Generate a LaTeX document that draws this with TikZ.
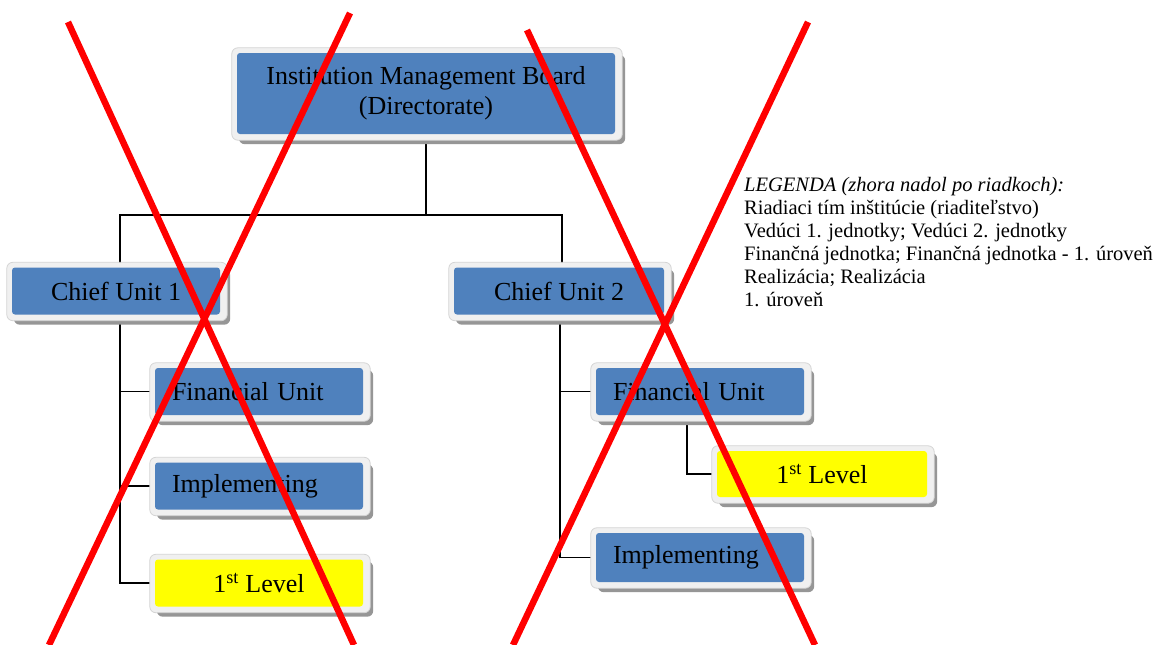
\documentclass[tikz,border=0pt]{standalone}
\usepackage{fontspec}
\setmainfont{Liberation Serif}
\usetikzlibrary{backgrounds}
\definecolor{boxblue}{RGB}{79,129,189}
\definecolor{boxyellow}{RGB}{255,255,0}
\definecolor{framefill}{RGB}{240,240,240}
\definecolor{frameedge}{RGB}{212,212,212}
\definecolor{shadowgray}{RGB}{150,150,150}
\definecolor{xred}{RGB}{255,0,0}
\begin{document}
\begin{tikzpicture}[x=1pt,y=-1pt,
  orgbox/.style={rounded corners=3pt, fill=boxblue, inner sep=0pt, minimum height=47pt,
    font=\fontsize{26}{30}\selectfont, text=black},
  leftbox/.style={orgbox, text width=174pt, align=left, inner xsep=17pt},
  centerbox/.style={orgbox, minimum width=208pt, align=center},
  levelbox/.style={centerbox, fill=boxyellow},
  connector/.style={draw=black, line width=1.8pt},
  redx/.style={draw=xred, line width=6.5pt},
  legendtext/.style={anchor=north west, inner sep=0pt, align=left, font=\fontsize{20.5}{23}\selectfont}
]
\useasboundingbox (0,0) rectangle (1159,645);

% boxes
\node[orgbox, minimum width=378pt, minimum height=81pt, align=center] (top) at (426,93.5)
  {Institution Management Board\\(Directorate)};
\node[centerbox] (cu1) at (116,291) {Chief Unit 1};
\node[centerbox, minimum width=210pt] (cu2) at (559,291) {Chief Unit 2};
\node[leftbox] (fin1) at (259,391.5) {Financial Unit};
\node[leftbox] (imp1) at (259,486) {Implementing};
\node[levelbox] (lvl1) at (259,583) {1\textsuperscript{st} Level};
\node[leftbox] (fin2) at (700,391.5) {Financial Unit};
\node[levelbox, minimum width=210pt, minimum height=46pt] (lvl2) at (822,474) {1\textsuperscript{st} Level};
\node[leftbox, minimum height=49pt] (imp2) at (700,557.5) {Implementing};

% legend
\node[legendtext] (legend) at (744,177) {\textit{LEGENDA (zhora nadol po riadkoch):}\\
Riadiaci tím inštitúcie (riaditeľstvo)\\
Vedúci 1. jednotky; Vedúci 2. jednotky\\
Finančná jednotka; Finančná jednotka - 1. úroveň\\
Realizácia; Realizácia\\
1. úroveň};

\begin{scope}[on background layer]
  \fill[white] (0,0) rectangle (1159,645);
  % connectors
  \coordinate (bus) at (426,215);
  \draw[connector] (top.south) -- (bus);
  \draw[connector] (bus) -| ([xshift=4pt]cu1.north);
  \draw[connector] (bus) -| ([xshift=3pt]cu2.north);
  \draw[connector] ([xshift=4pt]cu1.south) |- (fin1.west);
  \draw[connector] ([xshift=4pt]cu1.south) |- (imp1.west);
  \draw[connector] ([xshift=4pt]cu1.south) |- (lvl1.west);
  \draw[connector] ([xshift=1pt]cu2.south) |- (fin2.west);
  \draw[connector] ([xshift=1pt]cu2.south) |- (imp2.west);
  \draw[connector] ([xshift=-13pt]fin2.south) |- (lvl2.west);
  % frames and shadows
  \foreach \n in {top,cu1,cu2,fin1,imp1,lvl1,fin2,lvl2,imp2}{
    \fill[shadowgray, rounded corners=6pt] ([shift={(2,2)}]\n.north west) rectangle ([shift={(10,10)}]\n.south east);
    \filldraw[fill=framefill, draw=frameedge, line width=0.8pt, rounded corners=6pt]
      ([shift={(-5,-5)}]\n.north west) rectangle ([shift={(7,6)}]\n.south east);
  }
\end{scope}

% red crosses
\coordinate (xa1) at (68,22);
\coordinate (xa2) at (354,645);
\coordinate (xb1) at (350,13);
\coordinate (xb2) at (49,645);
\coordinate (xc1) at (527,30);
\coordinate (xc2) at (815,645);
\coordinate (xd1) at (808,22);
\coordinate (xd2) at (513,645);
\draw[redx] (xa1) -- (xa2);
\draw[redx] (xb1) -- (xb2);
\draw[redx] (xc1) -- (xc2);
\draw[redx] (xd1) -- (xd2);
\end{tikzpicture}
\end{document}
